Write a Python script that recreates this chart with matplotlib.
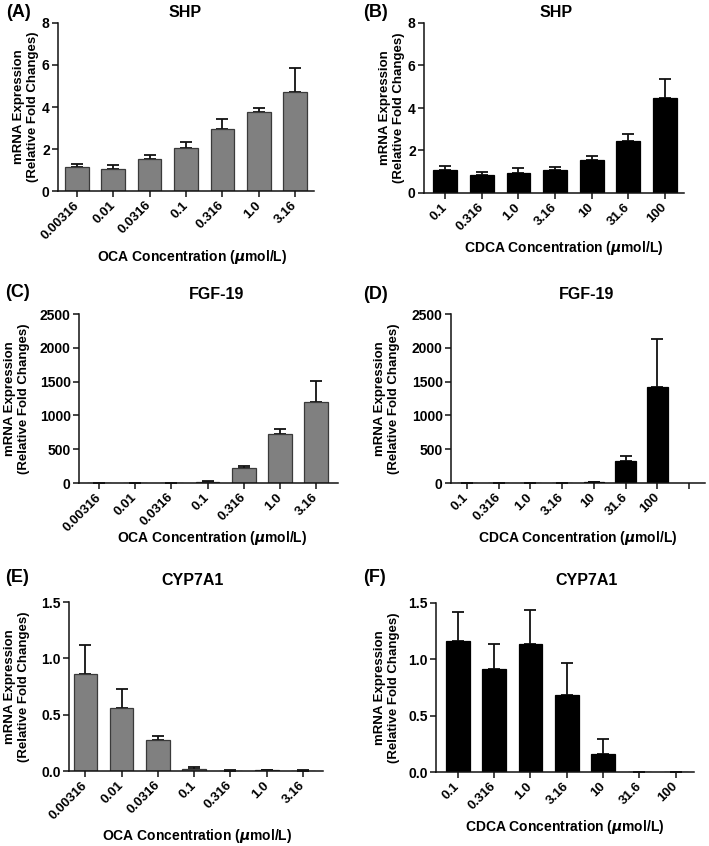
import numpy as np
import matplotlib
matplotlib.use("Agg")
import matplotlib.pyplot as plt

plt.rcParams['font.family'] = ['Liberation Sans', 'DejaVu Sans']
plt.rcParams['font.weight'] = 'bold'
plt.rcParams['mathtext.default'] = 'regular'

# ---------------- data ----------------
oca_conc = ["0.00316", "0.01", "0.0316", "0.1", "0.316", "1.0", "3.16"]
cdca_conc = ["0.1", "0.316", "1.0", "3.16", "10", "31.6", "100"]

shp_oca_mean = [1.14, 1.03, 1.50, 2.03, 2.97, 3.74, 4.72]
shp_oca_sem = [0.15, 0.22, 0.23, 0.29, 0.47, 0.20, 1.16]

shp_cdca_mean = [1.06, 0.85, 0.92, 1.08, 1.54, 2.47, 4.48]
shp_cdca_sem = [0.19, 0.12, 0.24, 0.16, 0.20, 0.32, 0.89]

fgf_oca_mean = [0.5, 1, 3, 15, 222, 721, 1191]
fgf_oca_sem = [0.5, 1, 3, 15, 35, 74, 316]

fgf_cdca_mean = [0.3, 0.3, 0.5, 2, 8, 325, 1417]
fgf_cdca_sem = [0.2, 0.2, 0.5, 2, 10, 79, 714]

cyp_oca_mean = [0.858, 0.561, 0.279, 0.021, 0.004, 0.005, 0.004]
cyp_oca_sem = [0.264, 0.163, 0.030, 0.012, 0.002, 0.003, 0.002]

cyp_cdca_mean = [1.163, 0.917, 1.133, 0.683, 0.160, 0.003, 0.003]
cyp_cdca_sem = [0.260, 0.219, 0.308, 0.281, 0.136, 0.001, 0.001]

# ---------------- layout ----------------
W, H = 709, 846
fig = plt.figure(figsize=(W / 100, H / 100), dpi=100)

GRAY = "#808080"
BLACK = "#000000"


def px_axes(left, right, top, bottom):
    return fig.add_axes([left / W, 1 - bottom / H, (right - left) / W, (bottom - top) / H])


panels = [
    # label, title, cats, mean, sem, color, ymax, yticks, yfmt, rect, xlim, extra_tick,
    dict(lab="(A)", title="SHP", cats=oca_conc, mean=shp_oca_mean, sem=shp_oca_sem, color=GRAY,
         yticks=[0, 2, 4, 6, 8], yfmt="{:g}", rect=(58, 314, 23, 191), xlim=(-0.52, 6.52), extra=False,
         labxy=(6, 4), titxy=(185, 17), ylabx=26, xlabel="OCA", xlabxy=(192, 257)),
    dict(lab="(B)", title="SHP", cats=cdca_conc, mean=shp_cdca_mean, sem=shp_cdca_sem, color=BLACK,
         yticks=[0, 2, 4, 6, 8], yfmt="{:g}", rect=(424, 684, 23, 193), xlim=(-0.58, 6.52), extra=False,
         labxy=(363, 4), titxy=(556, 17), ylabx=392, xlabel="CDCA", xlabxy=(564, 248)),
    dict(lab="(C)", title="FGF-19", cats=oca_conc, mean=fgf_oca_mean, sem=fgf_oca_sem, color=GRAY,
         yticks=[0, 500, 1000, 1500, 2000, 2500], yfmt="{:g}", rect=(79, 338, 314, 483), xlim=(-0.55, 6.6),
         extra=False, labxy=(5, 284), titxy=(217, 299), ylabx=17, xlabel="OCA", xlabxy=(212, 538)),
    dict(lab="(D)", title="FGF-19", cats=cdca_conc, mean=fgf_cdca_mean, sem=fgf_cdca_sem, color=BLACK,
         yticks=[0, 500, 1000, 1500, 2000, 2500], yfmt="{:g}", rect=(451, 705, 314, 483), xlim=(-0.5, 7.5),
         extra=True, labxy=(363, 286), titxy=(587, 299), ylabx=387, xlabel="CDCA", xlabxy=(578, 538)),
    dict(lab="(E)", title="CYP7A1", cats=oca_conc, mean=cyp_oca_mean, sem=cyp_oca_sem, color=GRAY,
         yticks=[0, 0.5, 1.0, 1.5], yfmt="{:.1f}", rect=(69, 323, 602, 771), xlim=(-0.45, 6.55), extra=False,
         labxy=(5, 569), titxy=(193, 585), ylabx=17, xlabel="OCA", xlabxy=(197, 836)),
    dict(lab="(F)", title="CYP7A1", cats=cdca_conc, mean=cyp_cdca_mean, sem=cyp_cdca_sem, color=BLACK,
         yticks=[0, 0.5, 1.0, 1.5], yfmt="{:.1f}", rect=(436, 694, 603, 772), xlim=(-0.6, 6.5), extra=False,
         labxy=(363, 569), titxy=(587, 585), ylabx=387, xlabel="CDCA", xlabxy=(565, 827)),
]

LW = 1.1
for p in panels:
    ax = px_axes(*p["rect"])
    n = len(p["cats"])
    x = np.arange(n)
    mean = np.array(p["mean"], dtype=float)
    sem = np.array(p["sem"], dtype=float)
    edge = "#3a3a3a" if p["color"] == GRAY else BLACK
    ax.bar(x, mean, width=0.65, color=p["color"], edgecolor=edge, linewidth=0.9, zorder=2)
    ax.errorbar(x, mean, yerr=[np.zeros(n), sem], fmt="none", ecolor="#111111",
                elinewidth=1.3, capsize=4, capthick=1.3, zorder=1)
    ax.set_ylim(0, p["yticks"][-1])
    ax.set_xlim(*p["xlim"])
    ax.set_yticks(p["yticks"])
    ax.set_yticklabels([p["yfmt"].format(v) for v in p["yticks"]], fontsize=10, fontweight="bold")
    if p["extra"]:
        ticks = list(range(n + 1))
        labels = list(p["cats"]) + [""]
    else:
        ticks = list(range(n))
        labels = list(p["cats"])
    ax.set_xticks(ticks)
    ax.set_xticklabels(labels, rotation=45, ha="right", va="center", rotation_mode="anchor",
                       fontsize=9.5, fontweight="bold")
    for s in ["top", "right"]:
        ax.spines[s].set_visible(False)
    for s in ["left", "bottom"]:
        ax.spines[s].set_linewidth(LW)
        ax.spines[s].set_color("#111111")
    ax.tick_params(axis="both", direction="out", length=4, width=LW, color="#111111")
    ax.tick_params(axis="x", pad=5)
    ax.tick_params(axis="y", pad=2)

    fig.text(p["labxy"][0] / W, 1 - p["labxy"][1] / H, p["lab"], fontsize=13, fontweight="bold",
             ha="left", va="top")
    fig.text(p["titxy"][0] / W, 1 - p["titxy"][1] / H, p["title"], fontsize=11.5, fontweight="bold",
             ha="center", va="baseline")
    ycen = (p["rect"][2] + p["rect"][3]) / 2
    fig.text(p["ylabx"] / W, 1 - ycen / H, "mRNA Expression\n(Relative Fold Changes)", rotation=90,
             fontsize=9.5, fontweight="bold", ha="center", va="center", multialignment="center",
             linespacing=1.15)
    fig.text(p["xlabxy"][0] / W, 1 - p["xlabxy"][1] / H,
             p["xlabel"] + r" Concentration ($\mathit{\mu}$mol/L)", fontsize=10, fontweight="bold",
             ha="center", va="center")

fig.savefig("out.png", dpi=100, facecolor="white")
